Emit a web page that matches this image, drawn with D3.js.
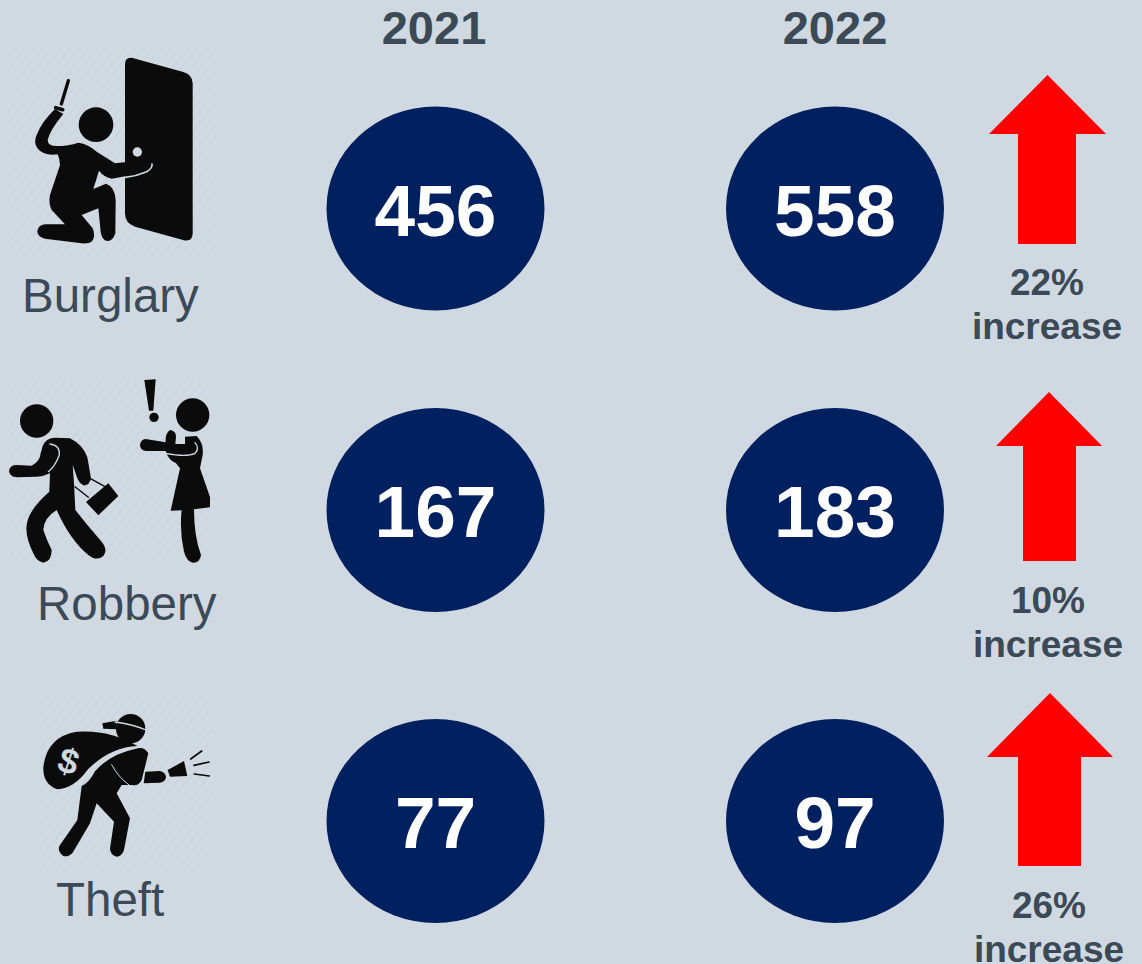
<!DOCTYPE html>
<html>
<head>
<meta charset="utf-8">
<script src="https://cdn.jsdelivr.net/npm/d3@7"></script>
<style>
  html, body { margin: 0; padding: 0; background: #d0d9e1; overflow: hidden; }
  text { font-family: "Liberation Sans", Arial, sans-serif; }
</style>
</head>
<body>
<svg id="chart" width="1142" height="964"></svg>
<script>
const years = ['2021', '2022'];
const crimes = ['Burglary', 'Robbery', 'Theft'];
const counts2021 = [456, 167, 77];
const counts2022 = [558, 183, 97];
const changes = [22, 10, 26];

const bg = '#d0d9e1';
const ink = '#0b0b0b';
const navy = '#002060';
const slate = '#3b4a56';

// the rows are not evenly spaced in the picture
const x = d3.scaleOrdinal().domain(years).range([435.5, 835]);
const y = d3.scaleOrdinal().domain(crimes).range([208.5, 510, 821]);

// per row layout: icon image box, label, arrow
const rowLayout = {
  Burglary: { box: [8, 46, 210, 210], label: [22, 312], arrow: { cx: 1047.5, top: 75, neck: 134, bottom: 244, head: 58.5, shaftL: 1018, shaftR: 1076 }, pct: [1047, 295] },
  Robbery: { box: [10, 380, 200, 182], label: [37, 620], arrow: { cx: 1049, top: 392, neck: 446, bottom: 561, head: 53, shaftL: 1023, shaftR: 1076 }, pct: [1048, 613] },
  Theft: { box: [40, 696, 172, 176], label: [56, 916], arrow: { cx: 1050, top: 693, neck: 757, bottom: 866, head: 63, shaftL: 1018, shaftR: 1081 }, pct: [1049, 918] }
};

const svg = d3.select('#chart');

const defs = svg.append('defs');
const hatch = defs.append('pattern')
  .attr('id', 'hatch')
  .attr('width', 7).attr('height', 7)
  .attr('patternUnits', 'userSpaceOnUse')
  .attr('patternTransform', 'rotate(40)');
hatch.append('rect').attr('width', 7).attr('height', 7).attr('fill', '#d1dae2');
hatch.append('rect').attr('width', 2).attr('height', 7).attr('fill', '#cdd6de');

defs.append('clipPath').attr('id', 'robClip')
  .append('rect').attr('width', 630).attr('height', 700);

svg.append('rect').attr('width', 1142).attr('height', 964).attr('fill', bg);

// year headers
svg.selectAll('.year')
  .data(years)
  .join('text')
  .attr('class', 'year')
  .attr('x', d => x(d) - (d === '2021' ? 1.5 : 0))
  .attr('y', 44)
  .attr('text-anchor', 'middle')
  .attr('font-size', 47)
  .attr('font-weight', 700)
  .attr('fill', slate)
  .text(d => d);

// icon image backgrounds
svg.selectAll('.iconBox')
  .data(crimes)
  .join('rect')
  .attr('class', 'iconBox')
  .attr('x', d => rowLayout[d].box[0])
  .attr('y', d => rowLayout[d].box[1])
  .attr('width', d => rowLayout[d].box[2])
  .attr('height', d => rowLayout[d].box[3])
  .attr('fill', 'url(#hatch)');

// icons were traced at 3x from the picture, so each group is scaled by 1/3
function iconGroup (dx, dy) {
  return svg.append('g').attr('transform', 'translate(' + dx + ',' + dy + ') scale(' + (1 / 3) + ')');
}

function fillPath (g, d, color) {
  return g.append('path').attr('d', d).attr('fill', color || ink);
}

function strokePath (g, d, w, color) {
  return g.append('path').attr('d', d)
    .attr('fill', 'none')
    .attr('stroke', color || ink)
    .attr('stroke-width', w)
    .attr('stroke-linecap', 'round')
    .attr('stroke-linejoin', 'round');
}

function dot (g, cx, cy, r, color) {
  return g.append('circle').attr('cx', cx).attr('cy', cy).attr('r', r).attr('fill', color || ink);
}

function drawBurglar () {
  let g = iconGroup(0, 40);
  // door
  fillPath(g, 'M375 72Q376 50 398 54L550 96Q578 105 578 130L578 580Q578 606 552 601L405 560Q375 550 375 520Z');
  dot(g, 412, 336, 14, bg);
  dot(g, 288, 254, 52);
  // screwdriver
  strokePath(g, 'M205 122L184 192', 10);
  strokePath(g, 'M167 203L188 209', 11);
  // body as one silhouette
  fillPath(g, 'M165 207L190 222Q150 270 143 300Q143 318 170 318Q205 318 235 308Q265 312 290 335L345 370L380 366L380 408L335 416Q310 410 297 392L280 447L318 431Q345 440 347 480L346 580Q338 604 322 603Q305 600 302 575L295 505L245 525L278 565Q288 590 275 605Q265 612 245 610L135 596Q112 590 112 573Q115 555 135 553L195 553L155 510Q145 490 150 465L180 375Q178 350 172 343Q130 348 112 325Q100 305 110 285Q125 245 165 207Z');
  strokePath(g, 'M376 412Q410 408 440 395Q458 385 456 372', 5, bg);
}

function drawRobbery () {
  let g = iconGroup(0, 370);
  // thief
  dot(g, 110, 153, 50);
  fillPath(g, 'M125 240Q130 205 165 203L210 205Q250 225 262 262L273 325Q268 348 250 346Q238 340 232 325L218 285L222 340L226 420Q265 470 305 515Q325 540 310 558Q290 575 265 555Q210 510 170 420Q130 445 130 480Q140 510 155 540Q155 575 130 578Q110 575 100 550Q75 500 80 465Q85 420 148 365L150 310Q130 320 110 320L50 322Q28 320 27 302Q30 285 50 285L95 287Q120 275 122 250Z');
  strokePath(g, 'M150 222Q180 225 178 255Q165 290 145 305', 4, bg);
  // handbag
  strokePath(g, 'M225 350L265 382', 4);
  strokePath(g, 'M270 325L315 350', 4);
  fillPath(g, 'M258 396L325 340L355 378L295 436Z');
  // victim
  fillPath(g, 'M433 30L467 28L460 122L447 122Z');
  dot(g, 462, 142, 14);
  let v = g.append('g').attr('clip-path', 'url(#robClip)');
  dot(v, 578, 135, 50);
  fillPath(v, 'M437 207L497 217Q495 190 510 180Q528 182 528 200L526 222L555 222L555 200L590 198Q612 220 608 255L600 295L640 410L582 418Q582 500 603 555Q600 578 580 578Q560 575 552 545Q538 480 545 421L512 422L540 295L528 280Q505 270 497 243L437 243Q420 240 420 225Q422 208 437 207Z');
  strokePath(v, 'M497 250Q560 262 585 250Q600 235 585 218', 4, bg);
}

function drawTheft () {
  let g = iconGroup(0, 690);
  // head with the bandana
  dot(g, 392, 116, 44);
  fillPath(g, 'M307 100L350 92L350 118L310 116Z');
  strokePath(g, 'M345 96Q395 102 438 120', 4, bg);
  // sack
  fillPath(g, 'M130 232Q140 140 230 125Q330 118 412 168Q330 172 264 238Q222 296 172 298Q128 282 130 232Z');
  g.append('text')
    .attr('x', 205).attr('y', 250)
    .attr('text-anchor', 'middle')
    .attr('font-size', 106)
    .attr('font-weight', 700)
    .attr('fill', bg)
    .attr('transform', 'rotate(18 205 215)')
    .text('$');
  // body and legs
  fillPath(g, 'M245 288Q268 278 285 244Q330 192 408 176L398 225L395 285L365 285L350 310L390 385L372 480Q365 500 350 500Q330 495 330 475L342 395L290 340L270 400L218 488Q205 502 190 498Q172 485 178 468L232 390Z');
  // raised arm
  fillPath(g, 'M405 178Q430 166 445 190L425 270Q415 290 395 285L375 265L395 215Z');
  strokePath(g, 'M335 224Q355 262 386 284', 3, bg);
  // forearm, flashlight and beams
  fillPath(g, 'M436 245L480 243Q498 248 498 262Q496 276 480 278L431 280Z');
  fillPath(g, 'M503 240L552 213L562 258L510 260Z');
  strokePath(g, 'M572 207L605 183', 5);
  strokePath(g, 'M582 226L627 216', 5);
  strokePath(g, 'M583 252L628 258', 5);
}

drawBurglar();
drawRobbery();
drawTheft();

// category labels
svg.selectAll('.crime')
  .data(crimes)
  .join('text')
  .attr('class', 'crime')
  .attr('x', d => rowLayout[d].label[0])
  .attr('y', d => rowLayout[d].label[1])
  .attr('font-size', 47.5)
  .attr('fill', slate)
  .text(d => d);

// count bubbles
const bubbles = crimes.flatMap((c, i) => [
  { crime: c, year: '2021', value: counts2021[i] },
  { crime: c, year: '2022', value: counts2022[i] }
]);

svg.selectAll('.bubble')
  .data(bubbles)
  .join('ellipse')
  .attr('class', 'bubble')
  .attr('cx', d => x(d.year))
  .attr('cy', d => y(d.crime))
  .attr('rx', 109)
  .attr('ry', 102)
  .attr('fill', navy);

svg.selectAll('.count')
  .data(bubbles)
  .join('text')
  .attr('class', 'count')
  .attr('x', d => x(d.year))
  .attr('y', d => y(d.crime) + 27)
  .attr('text-anchor', 'middle')
  .attr('font-size', 73)
  .attr('font-weight', 700)
  .attr('fill', '#fff')
  .text(d => d.value);

// change arrows
const arrowLine = d3.line();
svg.selectAll('.arrow')
  .data(crimes)
  .join('path')
  .attr('class', 'arrow')
  .attr('fill', '#ff0000')
  .attr('d', d => {
    let a = rowLayout[d].arrow;
    return arrowLine([
      [a.cx, a.top], [a.cx + a.head, a.neck], [a.shaftR, a.neck], [a.shaftR, a.bottom],
      [a.shaftL, a.bottom], [a.shaftL, a.neck], [a.cx - a.head, a.neck]
    ]) + 'Z';
  });

const pct = svg.selectAll('.pct')
  .data(crimes)
  .join('text')
  .attr('class', 'pct')
  .attr('text-anchor', 'middle')
  .attr('font-size', 37)
  .attr('font-weight', 700)
  .attr('fill', slate);
pct.append('tspan')
  .attr('x', d => rowLayout[d].pct[0])
  .attr('y', d => rowLayout[d].pct[1])
  .text((d, i) => changes[i] + '%');
pct.append('tspan')
  .attr('x', d => rowLayout[d].pct[0])
  .attr('y', d => rowLayout[d].pct[1] + 44)
  .text('increase');
</script>
</body>
</html>
